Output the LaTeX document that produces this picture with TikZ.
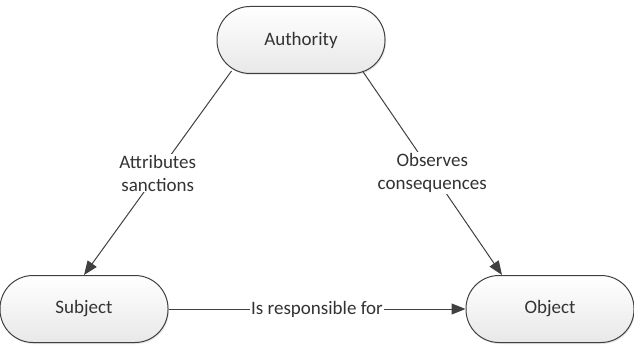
\documentclass[tikz,border=0pt]{standalone}
\usepackage{fontspec}
\setmainfont{Carlito}
\usetikzlibrary{arrows.meta, shadows}

\definecolor{linegray}{HTML}{404040}
\definecolor{textgray}{HTML}{333333}

\tikzset{
  role/.style={draw=linegray, line width=1pt, rectangle, rounded corners=33pt,
    minimum width=168pt, minimum height=67pt, top color=white, bottom color=gray!18,
    drop shadow={opacity=0.2, shadow xshift=1pt, shadow yshift=-1.5pt}, text=textgray},
  link/.style={draw=linegray, line width=1pt, -{Triangle[length=14pt, width=11pt]}},
  linklabel/.style={fill=white, text=textgray, align=center, inner sep=1pt}
}

\begin{document}
\begin{tikzpicture}[x=1pt, y=1pt, font=\fontsize{19}{23}\selectfont]
\useasboundingbox (0,0) rectangle (634,346);

% Roles
\node[role] (auth) at (301,306) {Authority};
\node[role] (subj) at (84,37) {Subject};
\node[role] (obj) at (550,37) {Object};

% Relations
\draw[link] ([xshift=15pt,yshift=3pt]auth.south west) -- node[linklabel, midway] {Attributes\\sanctions} (subj.north);
\draw[link] ([xshift=-23pt,yshift=3pt]auth.south east) -- node[linklabel, midway] {Observes\\consequences} ([xshift=-48pt]obj.north);
\draw[link] (subj.east) -- node[linklabel, midway] {Is responsible for} (obj.west);

\end{tikzpicture}
\end{document}
